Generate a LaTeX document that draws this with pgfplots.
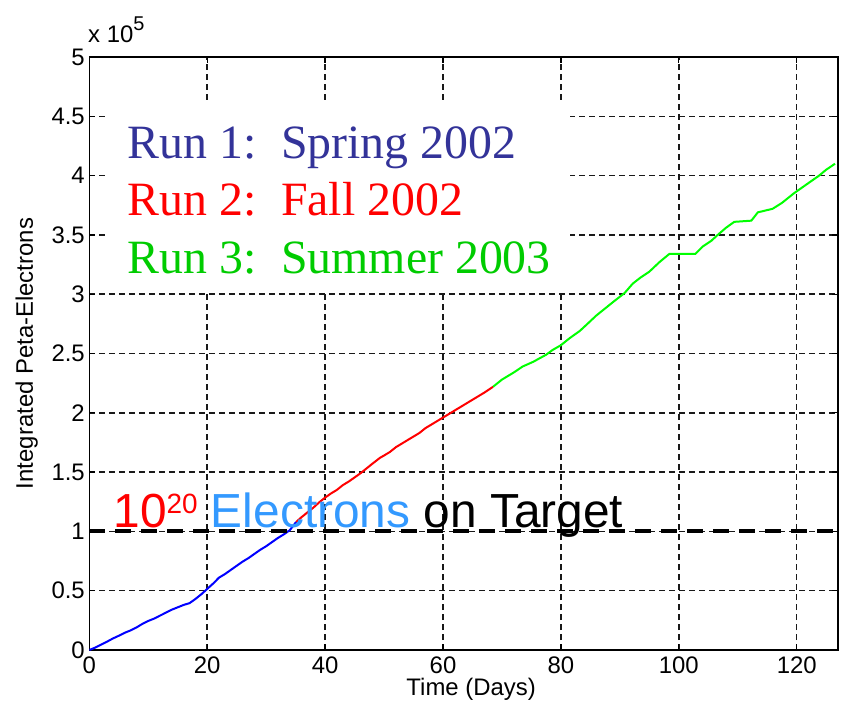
\documentclass[border=0pt]{standalone}
\usepackage{fontspec}
\setmainfont{Liberation Sans}
\newfontfamily\timesfont{Liberation Serif}
\usepackage{pgfplots}
\pgfplotsset{compat=1.18}
\definecolor{runblue}{RGB}{51,51,153}
\definecolor{rungreen}{RGB}{0,204,0}
\definecolor{linegreen}{RGB}{0,255,0}
\definecolor{elblue}{RGB}{51,153,255}
\begin{document}
\begin{tikzpicture}
\begin{axis}[
  scale only axis, width=748.7bp, height=593bp,
  at={(0,0)}, anchor=south west,
  xmin=0, xmax=127, ymin=0, ymax=5,
  xtick={0,20,...,120}, ytick={0,0.5,...,5},
  grid=major,
  major grid style={black!90, line width=1.5bp, dash pattern=on 6bp off 4bp},
  tick align=inside, major tick length=6bp,
  axis line style={line width=1.3bp},
  tick style={black, line width=1.3bp},
  ticklabel style={font=\fontsize{24}{28}\selectfont},
  xticklabel style={yshift=-3bp},
  yticklabel style={xshift=-1bp},
  /pgf/number format/assume math mode=true,
  xlabel={Time (Days)}, ylabel={Integrated Peta-Electrons},
  label style={font=\fontsize{24}{28}\selectfont, inner sep=0pt},
  xlabel style={at={(axis description cs:0.51,-0.048)}, anchor=north},
  ylabel style={at={(axis description cs:-0.0685,0.5)}, anchor=south},
]
\addplot[blue, line width=2bp] coordinates {
(0,0) (1,0.02) (2,0.045) (3,0.07) (4,0.097) (5,0.12) (6,0.145) (7,0.165)
(8,0.19) (9,0.22) (10,0.245) (11,0.265) (12,0.29) (13,0.315) (14,0.34)
(15,0.36) (16,0.38) (17,0.395) (18,0.43) (19,0.47) (20,0.515) (21,0.56)
(22,0.61) (23,0.64) (24,0.675) (25,0.71) (26,0.745) (27,0.775) (28,0.81)
(29,0.845) (30,0.875) (31,0.91) (32,0.945) (33,0.975) (34,1.01) (35.1,1.08)
};
\addplot[red, line width=2bp] coordinates {
(35.1,1.08) (36,1.12) (37,1.16) (38,1.20) (39,1.245) (40,1.285) (41,1.32)
(42,1.35) (43,1.39) (44,1.42) (45,1.455) (46,1.49) (47,1.53) (48,1.57)
(49.3,1.62) (50,1.64) (51,1.67) (52,1.71) (53,1.74) (54,1.77) (55,1.80)
(56,1.83) (57,1.87) (58,1.90) (59,1.93) (60,1.96) (61,1.99) (62,2.02)
(63,2.05) (64,2.08) (65,2.11) (66,2.14) (67,2.17) (68.5,2.22)
};
\addplot[linegreen, line width=2bp] coordinates {
(68.5,2.22) (70,2.28) (72,2.34) (73.5,2.39) (75.3,2.43) (76.4,2.46)
(77.5,2.49) (78.6,2.53) (80,2.57) (81.5,2.63) (83.2,2.69) (84.5,2.75)
(86,2.82) (87.5,2.88) (89,2.94) (90.8,3.01) (92.2,3.09) (93.5,3.14)
(95,3.19) (96.7,3.27) (98.4,3.34) (102.8,3.34) (104,3.40) (105.5,3.45)
(106.6,3.50) (108,3.56) (109.4,3.61) (112.3,3.62) (113.4,3.69) (115.9,3.72)
(117.5,3.77) (119.5,3.85) (121.5,3.92) (123.8,4.00) (125,4.05) (126.5,4.10)
};
\addplot[black, line width=4bp, dash pattern=on 16bp off 10bp] coordinates {(0,1) (127,1)};
\fill[white] (axis cs:3.0,3.035) rectangle (axis cs:81.5,4.61);
\node[anchor=base west, inner sep=0pt, text=runblue, font=\timesfont\fontsize{48}{56}\selectfont] at (axis cs:6.45,4.146) {Run 1:};
\node[anchor=base west, inner sep=0pt, text=runblue, font=\timesfont\fontsize{48}{56}\selectfont] at (axis cs:32.5,4.146) {Spring 2002};
\node[anchor=base west, inner sep=0pt, text=red, font=\timesfont\fontsize{48}{56}\selectfont] at (axis cs:6.45,3.662) {Run 2:};
\node[anchor=base west, inner sep=0pt, text=red, font=\timesfont\fontsize{48}{56}\selectfont] at (axis cs:32.5,3.662) {Fall 2002};
\node[anchor=base west, inner sep=0pt, text=rungreen, font=\timesfont\fontsize{48}{56}\selectfont] at (axis cs:6.45,3.176) {Run 3:};
\node[anchor=base west, inner sep=0pt, text=rungreen, font=\timesfont\fontsize{48}{56}\selectfont] at (axis cs:32.5,3.176) {Summer 2003};
\node[anchor=base west, inner sep=0pt, font=\fontsize{48}{56}\selectfont] at (axis cs:4.07,1.029)
  {\textcolor{red}{10\raisebox{14.5bp}{\fontsize{28}{30}\selectfont 20}} \textcolor{elblue}{Electrons} on Target};
\end{axis}
\node[anchor=base west, inner sep=0pt, font=\fontsize{24}{28}\selectfont] at (-1.3bp,607bp)
  {x 10\raisebox{12bp}{\fontsize{20}{22}\selectfont 5}};
\pgfresetboundingbox
\useasboundingbox (-89.3bp,-57bp) rectangle (753.7bp,650bp);
\end{tikzpicture}
\end{document}
